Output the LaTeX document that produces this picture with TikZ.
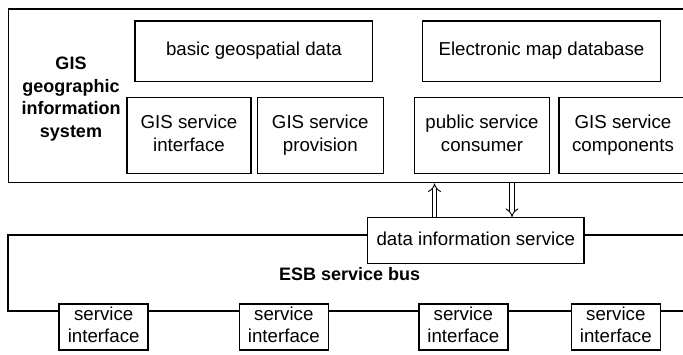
\documentclass[tikz,border=0pt]{standalone}
\usepackage{fontspec}
\setmainfont{Liberation Sans}
\usetikzlibrary{arrows.meta,calc}
% line strut so that every text line keeps the same height and depth
\newcommand\ls{\rule[-4.3pt]{0pt}{17.5pt}}
\begin{document}
\begin{tikzpicture}[x=1pt,y=-1pt,
  frame/.style={draw, line width=1.4pt, inner sep=0pt},
  box/.style={frame, align=center, font=\fontsize{18.7}{22.7}\selectfont},
  boldlabel/.style={inner sep=0pt, align=center, font=\fontsize{18}{22.7}\selectfont\bfseries},
  bus/.style={line width=1.4pt},
  flow/.style={double, line width=0.9pt, double distance=3.6pt, -{Implies}}]
\useasboundingbox (0,0) rectangle (683,354);
\clip (0,0) rectangle (683,354);

% GIS system frame and its parts
\node[frame, minimum width=683.7, minimum height=173.7] (gissys) at (350.15,95.85) {};
\node[boldlabel] (gislabel) at (71,99) {\ls GIS\\\ls geographic\\\ls information\\\ls system};
\node[box, minimum width=237.7, minimum height=60.7] (basic) at (253.85,51.35) {\ls basic geospatial data};
\node[box, minimum width=237.6, minimum height=60.7] (emap) at (541.5,51.35) {\ls Electronic map database};
\node[box, minimum width=124, minimum height=76] (gisif) at (189,135.3) {\ls GIS service\\\ls interface};
\node[box, minimum width=126, minimum height=76] (gisprov) at (320.3,135.3) {\ls GIS service\\\ls provision};
\node[box, minimum width=135.4, minimum height=76] (pubcons) at (482,135.3) {\ls public service\\\ls consumer};
\node[box, minimum width=128, minimum height=76] (gcomp) at (623,135.3) {\ls GIS service\\\ls components};

% ESB bus
\node[box, minimum width=216.3, minimum height=46] (dis) at (475.85,240.7) {\ls data information service};
\node[boldlabel, anchor=base] (esb) at (349.7,280) {ESB service bus};
\foreach \n/\x in {si1/103.65, si2/283.8, si3/463.3, si4/615.8}
  \node[box, minimum width=89, minimum height=46] (\n) at (\x,327) {\ls service\\\ls interface};

\coordinate (bustop) at (0,235);
\coordinate (busbot) at (0,311);
\coordinate (busleft) at (8,0);
\coordinate (busright) at (695,0);
\draw[bus] (dis.west |- bustop) -- (busleft |- bustop) -- (busleft |- busbot) -- (si1.west |- busbot);
\draw[bus] (si1.east |- busbot) -- (si2.west |- busbot);
\draw[bus] (si2.east |- busbot) -- (si3.west |- busbot);
\draw[bus] (si3.east |- busbot) -- (si4.west |- busbot);
\draw[bus] (si4.east |- busbot) -- (busright |- busbot);
\draw[bus] (dis.east |- bustop) -- (busright |- bustop);

% data exchange between the bus and the GIS system
\coordinate (upx) at (434.5,0);
\coordinate (downx) at (512,0);
\draw[flow] (upx |- dis.north) -- (upx |- gissys.south);
\draw[flow] (downx |- gissys.south) -- (downx |- dis.north);
\end{tikzpicture}
\end{document}
